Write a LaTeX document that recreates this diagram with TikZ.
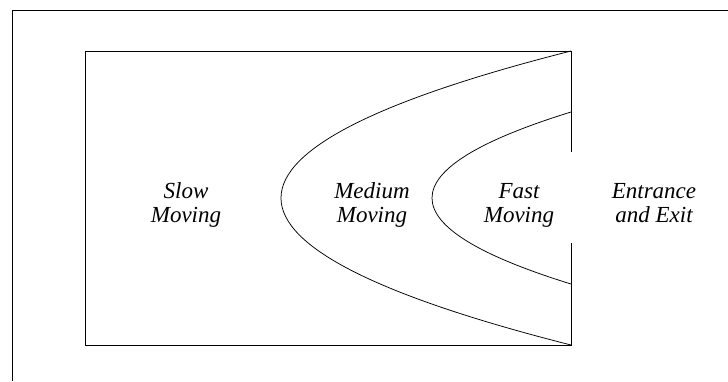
\documentclass[tikz,border=0pt]{standalone}
\usepackage{fontspec}
\setmainfont{Liberation Serif}
\begin{document}
\begin{tikzpicture}[x=1pt,y=-1pt,
  frame/.style={draw=black,line width=0.75pt},
  zone/.style={font=\fontsize{23}{23.5}\selectfont\itshape,align=center,anchor=base,inner sep=0pt}]
\useasboundingbox (0,0) rectangle (728,381);
% outer partial frame
\coordinate (ftr) at (728,10);
\coordinate (ftl) at (12,10);
\coordinate (fbl) at (12,381);
\draw[frame] (ftr) -- (ftl) -- (fbl);
% inner rectangle
\coordinate (tl) at (85,51);
\coordinate (tr) at (571,51);
\coordinate (bl) at (85,345);
\coordinate (br) at (571,345);
\coordinate (gapT) at (571,152);
\coordinate (gapB) at (571,243);
\draw[frame] (gapT) -- (tr) -- (tl) -- (bl) -- (br) -- (gapB);
% outer parabola
\draw[frame] (tr) .. controls (184.33,149) and (184.33,247) .. (br);
% inner parabola
\coordinate (it) at (571,112);
\coordinate (ib) at (571,284);
\draw[frame] (it) .. controls (385.67,169.33) and (385.67,226.67) .. (ib);
% labels
\node[zone] (slow) at (186,222) {Slow\\Moving};
\node[zone] (medium) at (372,222) {Medium\\Moving};
\node[zone] (fast) at (519,222) {Fast\\Moving};
\node[zone] (entr) at (654,222) {Entrance\\and Exit};
\end{tikzpicture}
\end{document}
